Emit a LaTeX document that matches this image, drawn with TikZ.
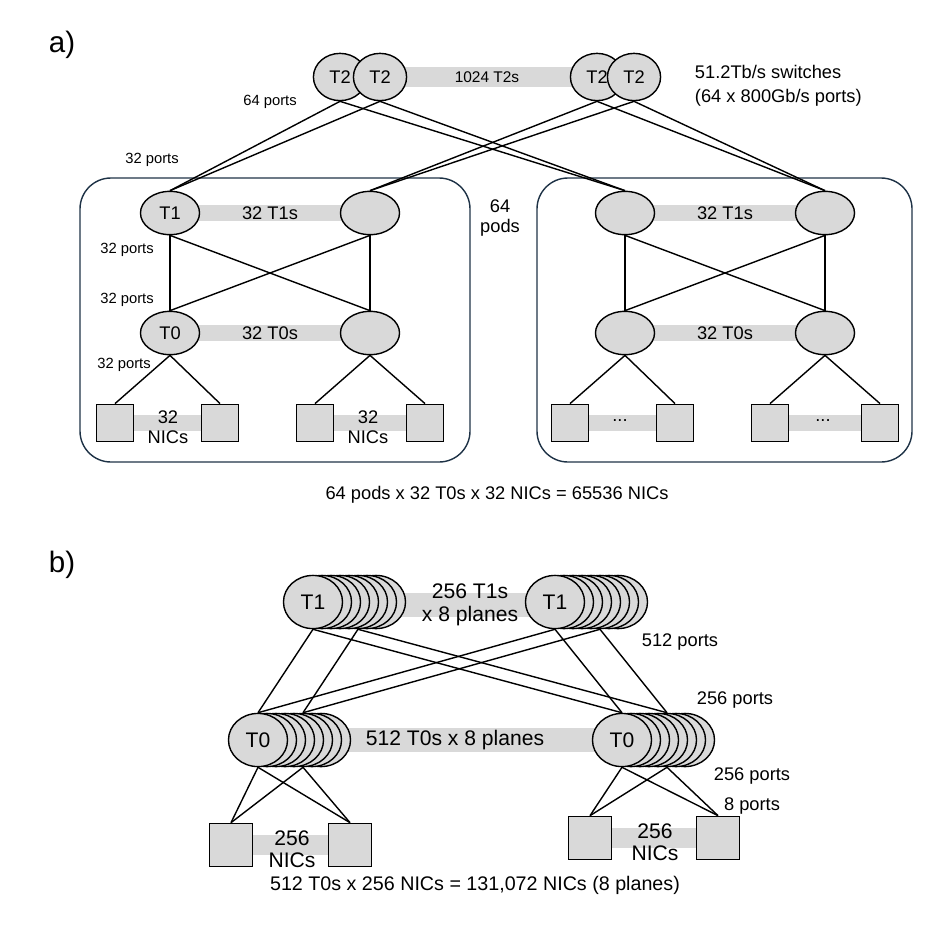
\documentclass[tikz,border=0pt]{standalone}
\usepackage{fontspec}
\setmainfont{Liberation Sans}
\usetikzlibrary{positioning,shapes.geometric}
\definecolor{barfill}{RGB}{217,217,217}
\definecolor{podline}{RGB}{30,50,70}
\tikzset{
    sw/.style={draw,line width=1pt,ellipse,fill=barfill,minimum width=#1,inner sep=0pt},
    sw/.default=42,
    nic/.style={draw,line width=1pt,fill=barfill,minimum size=38*0.7,inner sep=0pt},
    bar/.style={fill=barfill,draw=none},
    lnk/.style={line width=1pt},
    port/.style={font=\fontsize{10.5}{12}\selectfont},
    lbl/.style={font=\fontsize{13}{14}\selectfont},
    big/.style={font=\fontsize{15}{16}\selectfont}
}
\begin{document}
\begin{tikzpicture}[x=0.025cm,y=-0.025cm]
\useasboundingbox (0,0) rectangle (952,930);

% ---- a) ----
\node[font=\rmfamily\fontsize{21}{22}\selectfont] at (62,45) {a)};
\draw[line width=1pt,podline,rounded corners=22] (80,178) rectangle (470,462);
\draw[line width=1pt,podline,rounded corners=22] (537,178) rectangle (912,462);

\fill[bar] (370,67) rectangle (600,87);
\node[sw,lbl,minimum height=48*0.7,minimum width=54*0.7] (t2a) at (340,77) {T2};
\node[sw,lbl,minimum height=48*0.7,minimum width=54*0.7] (t2b) at (380,77) {T2};
\node[sw,lbl,minimum height=48*0.7,minimum width=54*0.7] (t2c) at (597,77) {T2};
\node[sw,lbl,minimum height=48*0.7,minimum width=54*0.7] (t2d) at (634,77) {T2};
\node[font=\fontsize{11}{12}\selectfont] at (487,77) {1024 T2s};
\node[lbl,anchor=west] at (690,72) {51.2Tb/s switches};
\node[lbl,anchor=west] at (690,98) {(64 x 800Gb/s ports)};

% pods
\foreach \p/\x in {L/0,R/455}{
  \fill[bar] (170+\x,205) rectangle (370+\x,221);
  \fill[bar] (170+\x,325) rectangle (370+\x,341);
  \node[sw,minimum height=44*0.7,minimum width=60*0.7] (t1a\p) at (170+\x,213) {};
  \node[sw,minimum height=44*0.7,minimum width=60*0.7] (t1b\p) at (370+\x,213) {};
  \node[sw,minimum height=44*0.7,minimum width=60*0.7] (t0a\p) at (170+\x,333) {};
  \node[sw,minimum height=44*0.7,minimum width=60*0.7] (t0b\p) at (370+\x,333) {};
  \node[lbl] at (270+\x,213) {32 T1s};
  \node[lbl] at (270+\x,333) {32 T0s};
  \fill[bar] (115+\x,415) rectangle (220+\x,431);
  \fill[bar] (315+\x,415) rectangle (425+\x,431);
  \node[nic] (n1\p) at (115+\x,423) {};
  \node[nic] (n2\p) at (220+\x,423) {};
  \node[nic] (n3\p) at (315+\x,423) {};
  \node[nic] (n4\p) at (425+\x,423) {};
  \foreach \a in {t1a\p,t1b\p}{
    \foreach \b in {t0a\p,t0b\p}{
      \draw[lnk] (\a.south) -- (\b.north);
    }
  }
  \draw[lnk] (t0a\p.south) -- (n1\p.north);
  \draw[lnk] (t0a\p.south) -- (n2\p.north);
  \draw[lnk] (t0b\p.south) -- (n3\p.north);
  \draw[lnk] (t0b\p.south) -- (n4\p.north);
}
\node[lbl] at (t1aL) {T1};
\node[lbl] at (t0aL) {T0};
\node[lbl,align=center,inner sep=0pt] at (168,427) {32\\NICs};
\node[lbl,align=center,inner sep=0pt] at (368,427) {32\\NICs};
\node[lbl] at (620,421) {...};
\node[lbl] at (823,421) {...};
\node[lbl,align=center] at (500,218) {64\\pods};

\foreach \a in {t2a,t2b}{
  \draw[lnk] (\a.south) -- (t1aL.north);
  \draw[lnk] (\a.south) -- (t1aR.north);
}
\foreach \a in {t2c,t2d}{
  \draw[lnk] (\a.south) -- (t1bL.north);
  \draw[lnk] (\a.south) -- (t1bR.north);
}
\node[port] at (270,102) {64 ports};
\node[port] at (152,160) {32 ports};
\node[port] at (127,250) {32 ports};
\node[port] at (127,300) {32 ports};
\node[port] at (124,365) {32 ports};
\node[lbl] at (497,495) {64 pods x 32 T0s x 32 NICs = 65536 NICs};

% ---- b) ----
\node[font=\rmfamily\fontsize{21}{22}\selectfont] at (62,565) {b)};
\fill[bar] (380,593) rectangle (560,617);
\fill[bar] (300,728) rectangle (650,752);
\foreach \n/\x/\y in {T1L/313/602,T1R/555/602,T0L/258/740,T0R/622/740}{
  \foreach \k in {7,...,1}{
    \node[sw=60*0.7,minimum height=54*0.7] (\n\k) at (\x+9*\k,\y) {};
  }
  \node[sw=60*0.7,minimum height=54*0.7] (\n) at (\x,\y) {};
}
\node[big] at (T1L) {T1};
\node[big] at (T1R) {T1};
\node[big] at (T0L) {T0};
\node[big] at (T0R) {T0};
\node[big,align=center,inner sep=0pt] at (470,605) {256 T1s\\x 8 planes};
\node[big] at (455,740) {512 T0s x 8 planes};

\fill[bar] (231,835) rectangle (350,855);
\fill[bar] (590,828) rectangle (718,848);
\node[nic,minimum size=44*0.7] (m1) at (231,845) {};
\node[nic,minimum size=44*0.7] (m2) at (350,845) {};
\node[nic,minimum size=44*0.7] (m3) at (590,838) {};
\node[nic,minimum size=44*0.7] (m4) at (718,838) {};
\node[big,align=center,inner sep=0pt] at (292,849) {256\\NICs};
\node[big,align=center,inner sep=0pt] at (655,842) {256\\NICs};

\foreach \s/\t in {T1L/T0L,T1L5/T0L5,T1L/T0R,T1L5/T0R5,T1R/T0R,T1R5/T0R5,T1R/T0L,T1R5/T0L5}{
  \draw[lnk] (\s.south) -- (\t.north);
}
\foreach \a in {T0L,T0L5}{
  \draw[lnk] (\a.south) -- (m1.north);
  \draw[lnk] (\a.south) -- (m2.north);
}
\foreach \a in {T0R,T0R5}{
  \draw[lnk] (\a.south) -- (m3.north);
  \draw[lnk] (\a.south) -- (m4.north);
}
\node[lbl] at (680,642) {512 ports};
\node[lbl] at (735,700) {256 ports};
\node[lbl] at (752,776) {256 ports};
\node[lbl] at (752,806) {8 ports};
\node[lbl,font=\fontsize{14}{15}\selectfont] at (475,885) {512 T0s x 256 NICs = 131,072 NICs (8 planes)};
\end{tikzpicture}
\end{document}
